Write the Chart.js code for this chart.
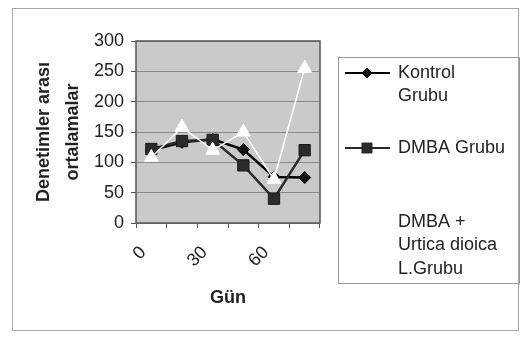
<!DOCTYPE html>
<html>
<head>
<meta charset="utf-8">
<script src="https://cdn.jsdelivr.net/npm/chart.js@4.4.1/dist/chart.umd.min.js"></script>
<style>
  html, body { margin: 0; padding: 0; background: #fff; }
  canvas { display: block; }
</style>
</head>
<body>
<canvas id="chart" width="520" height="338"></canvas>
<script>
// data
const days = ['0', '15', '30', '45', '60', '75'];
const kontrol = [120, 133, 138, 121, 76, 75];
const dmba = [122, 135, 137, 95, 40, 120];
const urtica = [108, 158, 120, 150, 72, 255];
const seriesNames = ['Kontrol Grubu', 'DMBA Grubu', 'DMBA + Urtica dioica L.Grubu'];
const legendLines = [['Kontrol', 'Grubu'], ['DMBA Grubu'], ['DMBA +', 'Urtica dioica', 'L.Grubu']];
const yTitle = ['Denetimler arası', 'ortalamalar'];
const xTitle = 'Gün';

const FONT = "'Liberation Sans', Arial, sans-serif";
Chart.defaults.font.family = FONT;
Chart.defaults.color = '#222';

// plot area fill + border, outer frame, legend box
const decor = {
    id: 'decor',
    beforeDraw(chart) {
        const { ctx, chartArea: a } = chart;
        ctx.save();
        ctx.fillStyle = '#c9cbc8';
        ctx.fillRect(a.left, a.top, a.right - a.left, a.bottom - a.top);
        ctx.restore();
    },
    afterDatasetsDraw(chart) {
        const { ctx, chartArea: a } = chart;
        ctx.save();
        ctx.strokeStyle = '#555';
        ctx.lineWidth = 1.5;
        ctx.strokeRect(a.left, a.top, a.right - a.left, a.bottom - a.top);
        ctx.restore();
    },
    afterDraw(chart) {
        const ctx = chart.ctx;
        ctx.save();
        ctx.strokeStyle = '#a8a8a8';
        ctx.lineWidth = 1;
        ctx.strokeRect(12.5, 8.5, 506, 322);

        // legend
        ctx.strokeStyle = '#999';
        ctx.strokeRect(338.5, 57.5, 181, 226);
        const itemY = [73, 148, 222];
        ctx.font = '18px ' + FONT;
        ctx.textBaseline = 'middle';
        ctx.textAlign = 'left';
        chart.data.datasets.forEach((ds, i) => {
            const y = itemY[i];
            ctx.strokeStyle = ds.borderColor;
            ctx.lineWidth = 2;
            ctx.beginPath();
            ctx.moveTo(345, y);
            ctx.lineTo(390, y);
            ctx.stroke();
            ctx.fillStyle = ds.pointBackgroundColor;
            ctx.strokeStyle = ds.pointBorderColor;
            ctx.lineWidth = 1;
            Chart.helpers.drawPoint(ctx, {
                pointStyle: ds.pointStyle,
                radius: ds.legendRadius,
                borderWidth: 1,
                rotation: 0
            }, 367, y);
            ctx.fillStyle = '#222';
            legendLines[i].forEach((line, k) => {
                ctx.fillText(line, 398, y + k * 23.5);
            });
        });
        ctx.restore();
    }
};

new Chart(document.getElementById('chart'), {
    type: 'line',
    data: {
        labels: days,
        datasets: [{
            label: seriesNames[0],
            data: kontrol,
            borderColor: '#000',
            borderWidth: 2.5,
            pointStyle: 'rectRot',
            pointRadius: 6,
            legendRadius: 5,
            pointBackgroundColor: '#111',
            pointBorderColor: '#000',
            pointBorderWidth: 1,
            tension: 0,
            order: 2
        }, {
            label: seriesNames[1],
            data: dmba,
            borderColor: '#2b2b2b',
            borderWidth: 2.5,
            pointStyle: 'rect',
            pointRadius: 8,
            legendRadius: 7,
            pointBackgroundColor: '#2b2b2b',
            pointBorderColor: '#1a1a1a',
            pointBorderWidth: 1,
            tension: 0,
            order: 1
        }, {
            label: seriesNames[2],
            data: urtica,
            borderColor: '#ffffff',
            borderWidth: 1.5,
            pointStyle: 'triangle',
            pointRadius: 8,
            legendRadius: 7,
            pointBackgroundColor: '#ffffff',
            pointBorderColor: '#ffffff',
            pointBorderWidth: 1,
            tension: 0,
            order: 0
        }]
    },
    options: {
        responsive: false,
        animation: false,
        layout: { padding: { left: 12, right: 200, top: 41, bottom: 0 } },
        plugins: {
            legend: { display: false },
            tooltip: { enabled: false }
        },
        scales: {
            x: {
                offset: true,
                afterFit: (s) => { s.height = 115; },
                grid: {
                    offset: true,
                    drawOnChartArea: false,
                    drawTicks: true,
                    tickLength: 5,
                    tickColor: '#555'
                },
                border: { display: false },
                ticks: {
                    autoSkip: false,
                    maxRotation: 45,
                    minRotation: 45,
                    padding: 14,
                    labelOffset: -8,
                    font: { size: 18 },
                    callback: (v, i) => (i % 2 === 0 ? days[i] : '')
                },
                title: {
                    display: true,
                    text: xTitle,
                    font: { size: 18, weight: 'bold' },
                    padding: { top: 0, bottom: 29 }
                }
            },
            y: {
                min: 0,
                max: 300,
                afterFit: (s) => { s.width = 124; },
                grid: {
                    color: '#8a8a8a',
                    lineWidth: 1,
                    tickLength: 5,
                    tickColor: '#555'
                },
                border: { display: false },
                ticks: {
                    stepSize: 50,
                    padding: 7,
                    font: { size: 18 }
                },
                title: {
                    display: true,
                    text: yTitle,
                    font: { size: 18, weight: 'bold', lineHeight: 1.6 },
                    padding: { top: 18, bottom: 0 }
                }
            }
        }
    },
    plugins: [decor]
});
</script>
</body>
</html>
